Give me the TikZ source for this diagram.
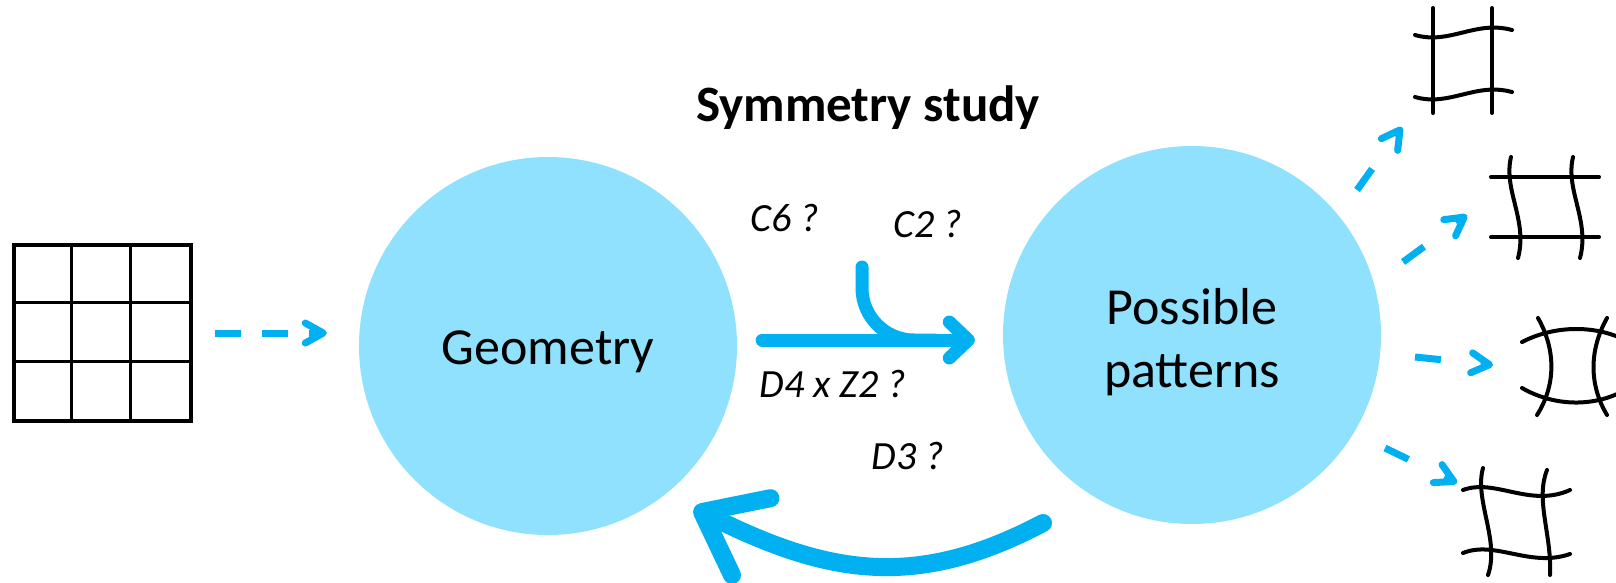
\documentclass[tikz,border=0pt]{standalone}
\usepackage{fontspec}
\setmainfont{Carlito}
\usetikzlibrary{arrows.meta,calc}
\definecolor{bubblefill}{HTML}{8FE1FD}
\definecolor{arrowblue}{HTML}{00B0F0}
\tikzset{
  bubble/.style={circle, fill=bubblefill, minimum size=378pt, inner sep=0pt, align=center, font=\fontsize{52}{63}\selectfont},
  qlabel/.style={font=\fontsize{40}{48}\selectfont\itshape},
  titlelabel/.style={font=\fontsize{51}{60}\selectfont\bfseries},
  gridbox/.style={draw, line width=3.5pt, minimum width=177pt, minimum height=176pt, inner sep=0pt},
  gridline/.style={line width=3.5pt},
  patline/.style={line width=4pt, line cap=round},
  fatline/.style={draw=arrowblue, line width=13pt, line cap=round},
  fatarrow/.style={fatline, -{Straight Barb[length=19pt, width=36pt, round]}},
  backarrow/.style={draw=arrowblue, line width=18pt, line cap=round, -{Straight Barb[length=55pt, width=86pt, round]}},
  dasharrow/.style={draw=arrowblue, line width=7pt, dash pattern=on 26pt off 21pt, -{Straight Barb[length=18pt, width=20pt, round]}},
  outarrow/.style={dasharrow, dash pattern=on 26pt off 40pt}
}
\begin{document}
\begin{tikzpicture}[x=1pt, y=-1pt]
\useasboundingbox (0,0) rectangle (1616,582);

% input lattice
\node[gridbox] (grid) at (102.5,333) {};
\foreach \k in {1,2} {
  \draw[gridline] ($(grid.north west)+(59*\k,0)$) -- ($(grid.south west)+(59*\k,0)$);
  \draw[gridline] ($(grid.north west)+(0,59*\k)$) -- ($(grid.north east)+(0,59*\k)$);
}

% the two bubbles
\node[bubble, text height=36pt, text depth=0pt] (geo) at (548,346) {Geometry};
\node[bubble] (pat) at (1192,335) {\rule{0pt}{50pt}Possible\\patterns};
\node[titlelabel] (title) at (868,108) {Symmetry study};

\draw[dasharrow, shorten <=22pt, shorten >=32pt] (grid.east) -- (grid.east -| geo.west);

% forward arrow with branch
\draw[fatarrow] ($(geo.east)+(25,-6)$) -- ($(pat.west)+(-28,5)$);
\coordinate (c2in) at (862,267);
\coordinate (c2out) at (935,340);
\draw[fatline, rounded corners=52pt] (c2in) |- (c2out);

\node[qlabel] (c6) at (785,218) {C6 ?};
\node[qlabel] (c2) at (928,224) {C2 ?};
\node[qlabel] (d4) at (833,384) {D4 x Z2 ?};
\node[qlabel] (d3) at (908,456) {D3 ?};

% way back
\coordinate (d3s) at (1043,523);
\coordinate (d3e) at (694,508);
\draw[backarrow] (d3s) .. controls (916,590) and (828,575) .. (d3e);

% pattern 1
\draw[patline] (1433,8) -- (1433,113);
\draw[patline] (1492,8) -- (1492,113);
\draw[patline] (1415,35) .. controls (1450,45) and (1475,20) .. (1512,30);
\draw[patline] (1415,97) .. controls (1450,107) and (1475,82) .. (1512,92);
% pattern 2
\draw[patline] (1491,177) -- (1599,177);
\draw[patline] (1491,237) -- (1599,237);
\draw[patline] (1511,157) .. controls (1503,190) and (1528,220) .. (1518,258);
\draw[patline] (1573,157) .. controls (1565,190) and (1590,220) .. (1580,258);
% pattern 3
\draw[patline] (1538,318) .. controls (1556,350) and (1556,385) .. (1537,415);
\draw[patline] (1607,318) .. controls (1589,350) and (1589,385) .. (1607,415);
\draw[patline] (1522,342) .. controls (1555,325) and (1595,325) .. (1625,340);
\draw[patline] (1522,388) .. controls (1555,407) and (1595,407) .. (1625,390);
% pattern 4
\draw[patline] (1483,468) .. controls (1474,500) and (1500,540) .. (1488,575);
\draw[patline] (1547,470) .. controls (1535,500) and (1552,535) .. (1550,575);
\draw[patline] (1463,490) .. controls (1495,478) and (1530,508) .. (1570,490);
\draw[patline] (1463,553) .. controls (1495,540) and (1530,568) .. (1570,554);

% arrows to the patterns
\coordinate (s1) at (1357,190); \coordinate (t1) at (1402,127);
\coordinate (s2) at (1403,262); \coordinate (t2) at (1467,215);
\coordinate (s3) at (1415,357); \coordinate (t3) at (1493,365);
\coordinate (s4) at (1385,448); \coordinate (t4) at (1457,483);
\foreach \i in {1,...,4}
  \draw[outarrow] (s\i) -- (t\i);
\end{tikzpicture}
\end{document}
